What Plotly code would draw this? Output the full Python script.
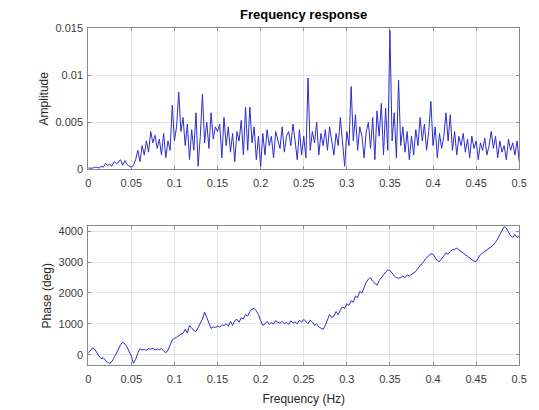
import plotly.graph_objects as go

freq_step = 0.0025
amplitude = [
    0.0001, 0.0001, 0.0001, 0.0002, 0.0002, 0.0001, 0.0003, 0.0002, 0.0006, 0.0004,
    0.0005, 0.0003, 0.0008, 0.0006, 0.0007, 0.0010, 0.0004, 0.0009, 0.0005, 0.0003,
    0.0002, 0.0004, 0.0010, 0.0020, 0.0008, 0.0025, 0.0015, 0.0030, 0.0018, 0.0040,
    0.0028, 0.0036, 0.0022, 0.0032, 0.0015, 0.0038, 0.0012, 0.0030, 0.0020, 0.0068,
    0.0030, 0.0045, 0.0082, 0.0040, 0.0055, 0.0025, 0.0048, 0.0010, 0.0042, 0.0020,
    0.0060, 0.0003, 0.0035, 0.0080, 0.0028, 0.0050, 0.0022, 0.0060, 0.0032, 0.0045,
    0.0040, 0.0048, 0.0012, 0.0055, 0.0025, 0.0045, 0.0018, 0.0038, 0.0008, 0.0040,
    0.0030, 0.0052, 0.0015, 0.0066, 0.0020, 0.0066, 0.0028, 0.0045, 0.0010, 0.0035,
    0.0002, 0.0038, 0.0015, 0.0042, 0.0025, 0.0035, 0.0012, 0.0040, 0.0030, 0.0022,
    0.0045, 0.0018, 0.0035, 0.0040, 0.0025, 0.0048, 0.0030, 0.0010, 0.0042, 0.0015,
    0.0035, 0.0012, 0.0097, 0.0020, 0.0040, 0.0028, 0.0050, 0.0015, 0.0038, 0.0025,
    0.0042, 0.0020, 0.0045, 0.0032, 0.0015, 0.0038, 0.0025, 0.0055, 0.0030, 0.0003,
    0.0040, 0.0025, 0.0088, 0.0030, 0.0058, 0.0020, 0.0045, 0.0035, 0.0012, 0.0040,
    0.0050, 0.0022, 0.0055, 0.0010, 0.0062, 0.0035, 0.0070, 0.0015, 0.0065, 0.0020,
    0.0148, 0.0030, 0.0060, 0.0012, 0.0095, 0.0025, 0.0045, 0.0018, 0.0040, 0.0010,
    0.0035, 0.0015, 0.0042, 0.0025, 0.0055, 0.0030, 0.0048, 0.0020, 0.0040, 0.0072,
    0.0025, 0.0045, 0.0012, 0.0038, 0.0022, 0.0035, 0.0060, 0.0030, 0.0058, 0.0020,
    0.0040, 0.0015, 0.0035, 0.0025, 0.0038, 0.0018, 0.0032, 0.0012, 0.0035, 0.0022,
    0.0030, 0.0010, 0.0028, 0.0020, 0.0033, 0.0015, 0.0025, 0.0040, 0.0022, 0.0035,
    0.0012, 0.0030, 0.0018, 0.0025, 0.0010, 0.0032, 0.0020, 0.0028, 0.0015, 0.0030,
    0.0008,
]
phase = [
    50, 150, 220, 180, 60, -50, -130, -100, -180, -250,
    -280, -220, -100, 50, 200, 320, 400, 350, 250, 120,
    -50, -280, -150, 50, 190, 150, 170, 140, 200, 180,
    210, 150, 190, 160, 200, 120, 60, 150, 300, 480,
    530, 560, 620, 650, 700, 820, 700, 950, 850, 780,
    750, 880, 1000, 1150, 1380, 1200, 1050, 850, 900, 880,
    920, 900, 960, 950, 1000, 920, 1080, 950, 1100, 1150,
    1050, 1200, 1150, 1300, 1250, 1400, 1480, 1500, 1420, 1300,
    1100, 950, 1000, 1080, 980, 1050, 1000, 1100, 1050, 1020,
    1080, 1000, 1050, 980, 1100, 1020, 1060, 1000, 1120, 1050,
    1150, 1080, 1000, 1120, 1060, 950, 1000, 900, 850, 820,
    950, 1100, 1300, 1200, 1250, 1400, 1300, 1450, 1550, 1500,
    1650, 1600, 1750, 1700, 1900, 1850, 2050, 2000, 2200, 2350,
    2450, 2500, 2380, 2300, 2250, 2400, 2500, 2600, 2680, 2750,
    2720, 2650, 2550, 2500, 2480, 2500, 2550, 2500, 2580, 2550,
    2600, 2650, 2700, 2800, 2900, 2950, 3050, 3150, 3200, 3280,
    3250, 3150, 3050, 3020, 3100, 3200, 3300, 3250, 3350, 3400,
    3420, 3450, 3400, 3350, 3300, 3250, 3200, 3150, 3100, 3030,
    3020, 3150, 3250, 3300, 3350, 3400, 3450, 3500, 3550, 3650,
    3750, 3900, 4050, 4150, 4100, 3950, 3850, 3800, 3900, 3800,
    3850,
]
freq = [round(i * freq_step, 4) for i in range(len(amplitude))]

x_ticks = [0, 0.05, 0.1, 0.15, 0.2, 0.25, 0.3, 0.35, 0.4, 0.45, 0.5]
x_labels = ["0", "0.05", "0.1", "0.15", "0.2", "0.25", "0.3", "0.35", "0.4", "0.45", "0.5"]
amp_ticks = [0, 0.005, 0.01, 0.015]
amp_labels = ["0", "0.005", "0.01", "0.015"]
phase_ticks = [0, 1000, 2000, 3000, 4000]
phase_labels = ["0", "1000", "2000", "3000", "4000"]

line_color = "rgb(45,45,205)"
FAM = "Liberation Sans, Arial, sans-serif"
font = dict(family=FAM, size=11, color="#3a3a3a")
title_font = dict(family=FAM, size=12, color="#262626")

fig = go.Figure()
fig.add_trace(go.Scatter(x=freq, y=amplitude, mode="lines",
                         line=dict(color=line_color, width=1),
                         xaxis="x", yaxis="y", showlegend=False))
fig.add_trace(go.Scatter(x=freq, y=phase, mode="lines",
                         line=dict(color=line_color, width=1),
                         xaxis="x2", yaxis="y2", showlegend=False))

axis_common = dict(showgrid=True, gridcolor="#e3e3e3", gridwidth=1,
                   showline=True, linecolor="#8a8a8a", linewidth=1, mirror="ticks",
                   ticks="inside", ticklen=3, tickcolor="#8a8a8a",
                   zeroline=False, tickfont=font)

W, H = 539, 410
dx = [87 / W, 527 / W]

fig.update_layout(
    width=W, height=H,
    margin=dict(l=0, r=0, t=0, b=0),
    paper_bgcolor="white", plot_bgcolor="white",
    font=font,
    xaxis=dict(domain=dx, range=[0, 0.5], tickvals=x_ticks, ticktext=x_labels,
               anchor="y", ticklabelstandoff=4, **axis_common),
    yaxis=dict(domain=[1 - 168 / H, 1 - 23 / H], range=[0, 0.015],
               tickvals=amp_ticks, ticktext=amp_labels, anchor="x", ticklabelstandoff=2,
               title=dict(text="Amplitude", font=title_font, standoff=4),
               **axis_common),
    xaxis2=dict(domain=dx, range=[0, 0.5], tickvals=x_ticks, ticktext=x_labels,
                anchor="y2", ticklabelstandoff=4,
                title=dict(text="Frequency (Hz)", font=title_font, standoff=10),
                **axis_common),
    yaxis2=dict(domain=[1 - 370 / H, 1 - 227 / H], range=[-340, 4160],
                tickvals=phase_ticks, ticktext=phase_labels, anchor="x2", ticklabelstandoff=2,
                title=dict(text="Phase (deg)", font=title_font, standoff=4),
                **axis_common),
    annotations=[dict(text="<b>Frequency response</b>", x=307 / W, y=1 - 9 / H,
                      xref="paper", yref="paper", showarrow=False,
                      font=dict(family=FAM, size=13, color="#000000"),
                      xanchor="center", yanchor="middle")],
)

fig.write_html("out.html")
